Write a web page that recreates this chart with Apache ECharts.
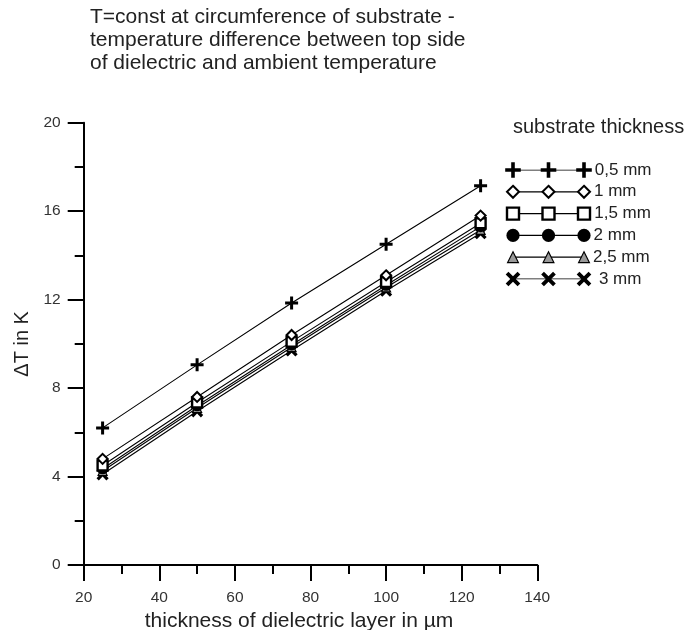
<!DOCTYPE html>
<html>
<head>
<meta charset="utf-8">
<style>
  html, body { margin: 0; padding: 0; background: #fff; }
  #chart { width: 693px; height: 630px; }
</style>
<script src="https://cdn.jsdelivr.net/npm/echarts@6/dist/echarts.min.js"></script>
</head>
<body>
<div id="chart"></div>
<script>
// dielectric layer thickness in µm
const thickness = [25, 50, 75, 100, 125]
const seriesNames = ['0,5 mm', '1 mm', '1,5 mm', '2 mm', '2,5 mm', '3 mm']

// temperature difference in K, one array per substrate thickness
const dT_05 = [6.2, 9.05, 11.85, 14.5, 17.15]
const dT_10 = [4.8, 7.6, 10.4, 13.1, 15.8]
const dT_15 = [4.5, 7.35, 10.1, 12.8, 15.45]
const dT_20 = [4.35, 7.2, 9.95, 12.65, 15.3]
const dT_25 = [4.25, 7.1, 9.85, 12.55, 15.15]
const dT_30 = [4.1, 6.95, 9.7, 12.4, 15.0]

const xTicks = { min: 20, max: 140, interval: 20 }
const yTicks = { min: 0, max: 20, interval: 4 }

const FONT = '"Liberation Sans", Arial, sans-serif'
const plusPath = 'path://M5,0H8V5H13V8H8V13H5V8H0V5H5Z'

// marker style per series
const markers = [
  { symbol: plusPath, size: 13, rotate: 0, fill: '#000', border: '#000', bw: 0 },
  { symbol: 'diamond', size: 10, rotate: 0, fill: '#fff', border: '#000', bw: 2 },
  { symbol: 'rect', size: 10, rotate: 0, fill: '#fff', border: '#000', bw: 2.4 },
  { symbol: 'circle', size: 11, rotate: 0, fill: '#000', border: '#000', bw: 0 },
  { symbol: 'triangle', size: 9, rotate: 0, fill: '#999', border: '#000', bw: 1.2 },
  { symbol: plusPath, size: 14, rotate: 45, fill: '#000', border: '#000', bw: 0 },
]

const values = [dT_05, dT_10, dT_15, dT_20, dT_25, dT_30]

const chart = echarts.init(document.getElementById('chart'))

const dataSeries = values.map((vals, i) => ({
  name: seriesNames[i],
  type: 'line',
  xAxisIndex: 0,
  yAxisIndex: 0,
  data: thickness.map((t, j) => [t, vals[j]]),
  symbol: markers[i].symbol,
  symbolSize: markers[i].size,
  symbolRotate: markers[i].rotate,
  showAllSymbol: true,
  lineStyle: { color: '#000', width: 1.1 },
  itemStyle: { color: markers[i].fill, borderColor: markers[i].border, borderWidth: markers[i].bw },
  emphasis: { disabled: true },
  z: 2 + (values.length - i),
}))

// legend rows drawn as small line series in their own grid
const legendSeries = seriesNames.map((name, i) => ({
  name: 'legend ' + name,
  type: 'line',
  xAxisIndex: 1,
  yAxisIndex: 1,
  data: [0, 1, 2].map((k) => ({
    value: [k, i],
    label: k === 2
      ? { show: true, position: 'right', distance: 3, formatter: name, fontSize: 17, color: '#222', fontFamily: FONT }
      : { show: false },
  })),
  symbol: markers[i].symbol,
  symbolSize: markers[i].size * 1.2,
  symbolRotate: markers[i].rotate,
  lineStyle: { color: '#000', width: 1.2 },
  itemStyle: { color: markers[i].fill, borderColor: markers[i].border, borderWidth: markers[i].bw },
  emphasis: { disabled: true },
}))

const axisLine = { show: true, onZero: false, lineStyle: { color: '#000', width: 2 } }
const axisTick = { show: true, length: 16, lineStyle: { color: '#000', width: 2 } }
const minorTick = { show: true, splitNumber: 2, length: 9, lineStyle: { color: '#000', width: 2 } }

const option = {
  animation: false,
  backgroundColor: '#fff',
  title: [
    {
      text: 'T=const at circumference of substrate -\ntemperature difference between top side\nof dielectric and ambient temperature',
      left: 90,
      top: 6,
      padding: 0,
      textStyle: { fontSize: 21, lineHeight: 23, fontWeight: 'normal', color: '#222', fontFamily: FONT },
    },
    {
      text: 'substrate thickness',
      left: 513,
      top: 116,
      padding: 0,
      textStyle: { fontSize: 20, lineHeight: 23, fontWeight: 'normal', color: '#222', fontFamily: FONT },
    },
  ],
  grid: [
    { left: 83.7, right: 155.7, top: 122.7, bottom: 65, containLabel: false, outerBoundsMode: 'none' },
    { left: 513, width: 71, top: 170, height: 109, containLabel: false, outerBoundsMode: 'none' },
  ],
  xAxis: [
    {
      type: 'value',
      gridIndex: 0,
      min: xTicks.min,
      max: xTicks.max,
      interval: xTicks.interval,
      axisLine,
      axisTick,
      minorTick,
      splitLine: { show: false },
      minorSplitLine: { show: false },
      axisLabel: { fontSize: 15.5, color: '#333', margin: 25, fontFamily: FONT },
      name: 'thickness of dielectric layer in µm',
      nameLocation: 'middle',
      nameGap: 44,
      nameTextStyle: { fontSize: 21, color: '#222', fontFamily: FONT, padding: [0, 23, 0, 0] },
    },
    { type: 'value', gridIndex: 1, min: 0, max: 2, show: false },
  ],
  yAxis: [
    {
      type: 'value',
      gridIndex: 0,
      min: yTicks.min,
      max: yTicks.max,
      interval: yTicks.interval,
      axisLine,
      axisTick,
      minorTick,
      splitLine: { show: false },
      minorSplitLine: { show: false },
      axisLabel: { fontSize: 15.5, color: '#333', margin: 23, fontFamily: FONT },
      name: 'ΔT in K',
      nameLocation: 'middle',
      nameGap: 39,
      nameTextStyle: { fontSize: 20, color: '#222', fontFamily: FONT },
    },
    { type: 'value', gridIndex: 1, min: 0, max: 5, inverse: true, show: false },
  ],
  series: [...dataSeries, ...legendSeries],
}

chart.setOption(option)
</script>
</body>
</html>
